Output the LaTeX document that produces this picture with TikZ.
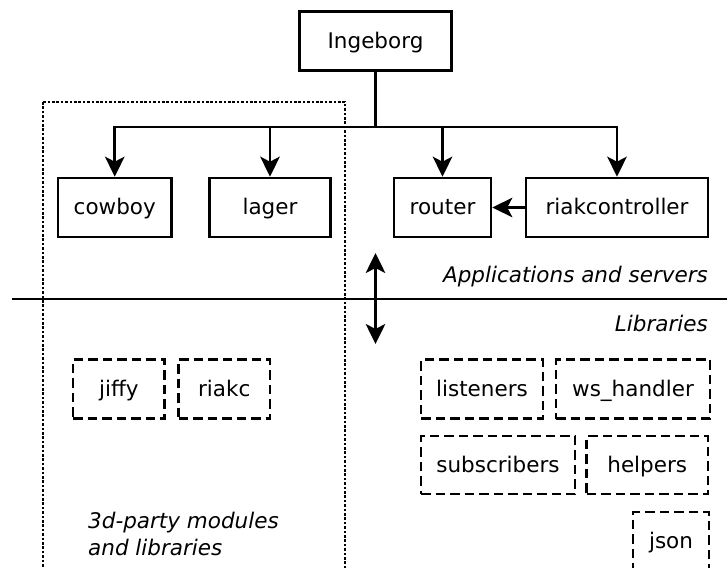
\documentclass[tikz,border=0pt]{standalone}
\usepackage{fontspec}
\setmainfont{DejaVu Sans}
\usetikzlibrary{arrows.meta}

\begin{document}
\begin{tikzpicture}[x=1pt,y=-1pt,
  every node/.style={font=\fontsize{21.5}{27}\selectfont, inner sep=0pt},
  boxtext/.style={text height=19pt, text depth=5pt},
  stroke/.style={line width=2.6pt},
  solidbox/.style={draw, stroke, boxtext, minimum height=59pt},
  libbox/.style={draw, stroke, boxtext, dash pattern=on 9.5pt off 5pt, minimum height=59pt},
  head/.style={Stealth[length=20pt,width=19.5pt,inset=5pt]},
  link/.style={stroke, -{Stealth[length=20pt,width=19.5pt,inset=5pt]}},
  both/.style={stroke, {Stealth[length=20pt,width=19.5pt,inset=5pt]}-{Stealth[length=20pt,width=19.5pt,inset=5pt]}},
  layer/.style={font=\fontsize{21.5}{27}\selectfont\itshape},
]
\useasboundingbox (0,0) rectangle (727,567);

% group of third-party modules (runs off the bottom edge)
\draw[line width=2.8pt, dash pattern=on 2.6pt off 1.8pt] (43,102) rectangle (345,600);

% applications
\node[solidbox, minimum width=152pt]   (ing)     at (375.5,41.2) {Ingeborg};
\node[solidbox, minimum width=113.5pt] (cowboy)  at (114.75,207.5) {cowboy};
\node[solidbox, minimum width=121pt]   (lager)   at (270,207.5) {lager};
\node[solidbox, minimum width=97pt]    (router)  at (442.5,207.5) {router};
\node[solidbox, minimum width=182pt]   (riak)    at (617,207.5) {riakcontroller};

% supervision tree
\coordinate (bus) at (375.5,127);
\draw[stroke] (ing) -- (bus);
\draw[stroke, line cap=rect] (cowboy.north |- bus) -- (riak.north |- bus);
\foreach \n in {cowboy,lager,router,riak}
  \draw[link] (\n.north |- bus) -- (\n.north);
\draw[link] (riak.west) -- (router.east);

% layer separator
\coordinate (sepL) at (12,299);
\coordinate (sepR) at (727,299);
\draw[stroke] (sepL) -- (sepR);
\coordinate (up) at (375.5,253);
\coordinate (down) at (375.5,344);
\draw[both] (up) -- (down);
\node[layer, anchor=east] (apps) at (708,277) {Applications and servers};
\node[layer, anchor=east] (libs) at (708,323) {Libraries};

% libraries
\node[libbox, minimum width=91.6pt] (jiffy)  at (118.8,389) {jiffy};
\node[libbox, minimum width=91.5pt] (riakc)  at (224.25,389) {riakc};
\node[libbox, minimum width=122pt]  (listen) at (482,389) {listeners};
\node[libbox, minimum width=154pt]  (ws)     at (633,389) {ws\_handler};
\node[libbox, minimum width=154pt, minimum height=58pt] (subs) at (498,465) {subscribers};
\node[libbox, minimum width=121.5pt, minimum height=58pt] (help) at (647.25,465) {helpers};
\node[libbox, minimum width=76pt, minimum height=58pt] (json) at (671,541) {json};

\node[layer, anchor=west, align=left] (third) at (88,533.5) {3d-party modules\\and libraries};
\end{tikzpicture}
\end{document}
